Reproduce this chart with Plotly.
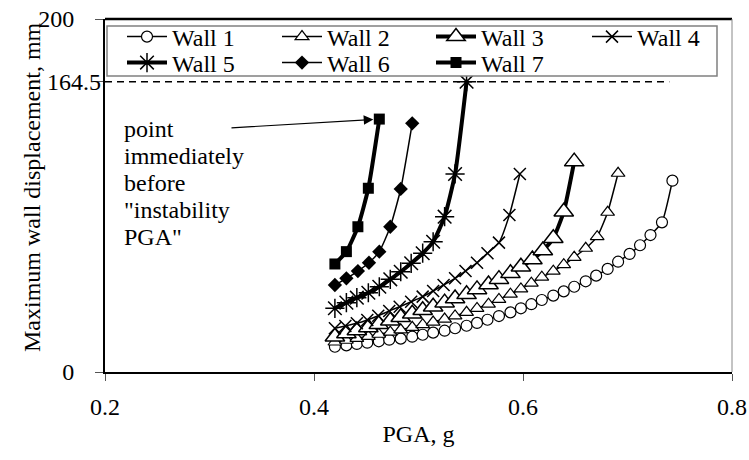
import plotly.graph_objects as go

# ---- data ----
wall1_pga = [0.420,0.431,0.441,0.451,0.462,0.472,0.483,0.494,0.504,0.514,0.525,0.535,0.546,0.556,0.566,0.577,
             0.588,0.598,0.608,0.618,0.629,0.639,0.649,0.660,0.670,0.681,0.691,0.702,0.712,0.722,0.733,0.743]
wall1_d = [14.3,15.1,15.9,16.6,17.4,18.3,18.9,20.0,21.1,22.3,23.4,24.8,26.2,27.8,29.6,31.7,
           33.8,36.1,38.4,40.8,43.3,45.7,48.3,51.4,54.6,58.4,62.5,66.9,71.8,77.6,84.8,108.4]

wall2_pga = [0.420,0.431,0.441,0.452,0.462,0.473,0.483,0.494,0.504,0.514,0.525,0.535,0.546,0.556,0.567,0.577,
             0.588,0.598,0.608,0.618,0.629,0.639,0.649,0.660,0.671,0.681,0.691]
wall2_d = [17.0,18.0,19.1,20.2,21.4,22.6,23.9,25.3,26.8,28.3,30.0,31.8,33.8,36.0,38.4,41.1,
           44.1,47.1,50.3,53.7,57.1,60.8,65.0,70.1,76.7,90.5,112.6]

wall3_pga = [0.420,0.431,0.441,0.452,0.462,0.473,0.483,0.494,0.504,0.514,0.525,0.535,0.546,0.556,0.567,0.577,
             0.588,0.598,0.609,0.619,0.629,0.639,0.649]
wall3_d = [20.0,21.8,23.5,25.2,27.0,29.0,31.0,33.0,35.0,37.0,39.3,41.6,44.0,46.8,49.6,52.6,
           55.9,59.6,63.7,68.8,75.8,90.8,119.2]

wall4_pga = [0.420,0.430,0.441,0.451,0.4615,0.472,0.482,0.493,0.504,0.514,0.524,0.535,0.545,0.556,0.566,0.577,0.587,0.597]
wall4_d = [24.8,26.1,27.6,29.5,31.9,34.6,37.0,39.8,42.7,45.9,49.3,53.1,57.2,61.9,67.3,73.3,89.0,112.2]

wall5_pga = [0.420,0.431,0.441,0.452,0.4625,0.473,0.483,0.493,0.504,0.514,0.525,0.535,0.546]
wall5_d = [36.1,39.3,42.1,44.9,48.3,52.5,56.8,61.6,67.3,73.8,88.0,112.2,164.5]

wall6_pga = [0.420,0.431,0.442,0.4526,0.4625,0.473,0.483,0.494]
wall6_d = [49.3,53.1,57.2,61.9,68.2,82.3,103.7,140.9]

wall7_pga = [0.420,0.431,0.442,0.452,0.4625]
wall7_d = [61.2,68.2,82.3,104.1,143.3]

instability_d = 164.5
instability_x = [0.2, 0.74]

x_ticks = [0.2, 0.4, 0.6, 0.8]
x_ticktext = ["0.2", "0.4", "0.6", "0.8"]
y_ticks = [0, 164.5, 200]
y_ticktext = ["0", "", "200"]

note_lines = ["point", "immediately", "before", "\"instability", "PGA\""]
note_y = [137.7, 122.4, 107.1, 91.8, 76.5]
note_x = 0.216
arrow_tail = (0.3196, 138.3)

FONT = "Liberation Serif"

# plot area in pixels (for placing legend entries / box in paper units)
PL, PR, PT, PB = 105, 732, 19, 372
def px_x(p):
    return (p - PL) / (PR - PL)
def px_y(p):
    return (PB - p) / (PB - PT)

fig = go.Figure()

specs = [
    ("Wall 1", wall1_pga, wall1_d, dict(symbol="circle", size=11, color="white", line=dict(color="black", width=1.2)), 1.5),
    ("Wall 2", wall2_pga, wall2_d, dict(symbol="triangle-up", size=12, color="white", line=dict(color="black", width=1.2)), 1.5),
    ("Wall 3", wall3_pga, wall3_d, dict(symbol="triangle-up", size=17, color="white", line=dict(color="black", width=1.5)), 4),
    ("Wall 4", wall4_pga, wall4_d, dict(symbol="x-thin", size=12, color="black", line=dict(color="black", width=1.5)), 1.5),
    ("Wall 5", wall5_pga, wall5_d, dict(symbol="asterisk", size=16, color="black", line=dict(color="black", width=1.5)), 4),
    ("Wall 6", wall6_pga, wall6_d, dict(symbol="diamond", size=11, color="black", line=dict(color="black", width=0)), 1.5),
    ("Wall 7", wall7_pga, wall7_d, dict(symbol="square", size=11, color="black", line=dict(color="black", width=0)), 4),
]
# legend entry origins (pixels) : 4 entries on first row, 3 on second
entry_x = [122, 277, 431, 587, 122, 277, 431]
entry_y = [37, 37, 37, 37, 63, 63, 63]

# dashed instability line
fig.add_trace(go.Scatter(x=instability_x, y=[instability_d, instability_d], mode="lines",
                         line=dict(color="black", width=1.5, dash="7px,5px"),
                         showlegend=False, hoverinfo="skip"))

legend_layout = {}
for i, (name, xs, ys, mk, lw) in enumerate(specs):
    lname = "legend" if i == 0 else f"legend{i+1}"
    fig.add_trace(go.Scatter(x=xs, y=ys, mode="lines+markers", name=name, legend=lname,
                             line=dict(color="black", width=lw, shape="spline", smoothing=0.5),
                             marker=mk))
    legend_layout[lname] = dict(orientation="h", xref="paper", yref="paper",
                                x=px_x(entry_x[i]), y=px_y(entry_y[i]),
                                xanchor="left", yanchor="middle",
                                bgcolor="rgba(0,0,0,0)", borderwidth=0,
                                font=dict(family=FONT, size=24, color="black"),
                                itemwidth=40)

annotations = []
for txt, yy in zip(note_lines, note_y):
    annotations.append(dict(x=note_x, y=yy, xref="x", yref="y", text=txt, showarrow=False,
                            xanchor="left", yanchor="middle", font=dict(family=FONT, size=24, color="black")))
annotations.append(dict(x=wall7_pga[-1], y=wall7_d[-1], xref="x", yref="y", ax=arrow_tail[0], ay=arrow_tail[1],
                        axref="x", ayref="y", text="", showarrow=True, arrowhead=2, arrowsize=1.6,
                        arrowwidth=1.2, arrowcolor="black", standoff=6))
annotations.append(dict(x=-0.003, y=instability_d, xref="paper", yref="y", text="164.5", showarrow=False,
                        xanchor="right", yanchor="middle", font=dict(family=FONT, size=24, color="black")))
annotations.append(dict(x=px_x(32), y=px_y(187), xref="paper", yref="paper", text="Maximum wall displacement, mm",
                        textangle=-90, showarrow=False, xanchor="center", yanchor="middle",
                        font=dict(family=FONT, size=24, color="black")))

fig.update_layout(
    width=749, height=460,
    margin=dict(l=PL, r=749 - PR, t=PT, b=460 - PB),
    paper_bgcolor="white", plot_bgcolor="white",
    font=dict(family=FONT, size=24, color="black"),
    showlegend=True,
    annotations=annotations,
    xaxis=dict(range=[0.2, 0.8], tickvals=x_ticks, ticktext=x_ticktext, automargin=False,
               showgrid=False, zeroline=False, showline=True, linecolor="black", linewidth=2,
               ticks="outside", ticklen=7, tickcolor="#555", tickwidth=1, ticklabelstandoff=5,
               title=dict(text="PGA, g", font=dict(family=FONT, size=24), standoff=6),
               tickfont=dict(family=FONT, size=24)),
    yaxis=dict(range=[0, 200], tickvals=y_ticks, ticktext=y_ticktext, automargin=False,
               showgrid=False, zeroline=False, showline=True, linecolor="black", linewidth=2,
               ticks="outside", ticklen=8, tickcolor="#555", tickwidth=1, ticklabelstandoff=16,
               tickfont=dict(family=FONT, size=24)),
    shapes=[
        dict(type="rect", xref="paper", yref="paper", x0=px_x(107), x1=px_x(717),
             y0=px_y(76), y1=px_y(26), fillcolor="white", line=dict(color="#808080", width=1.5),
             layer="above"),
        dict(type="line", xref="paper", yref="paper", x0=0, x1=1, y0=1, y1=1, line=dict(color="black", width=2.5)),
        dict(type="line", xref="paper", yref="paper", x0=1, x1=1, y0=0, y1=1, line=dict(color="#888", width=1)),
    ],
)
fig.update_layout(**legend_layout)

fig.write_html("out.html")
